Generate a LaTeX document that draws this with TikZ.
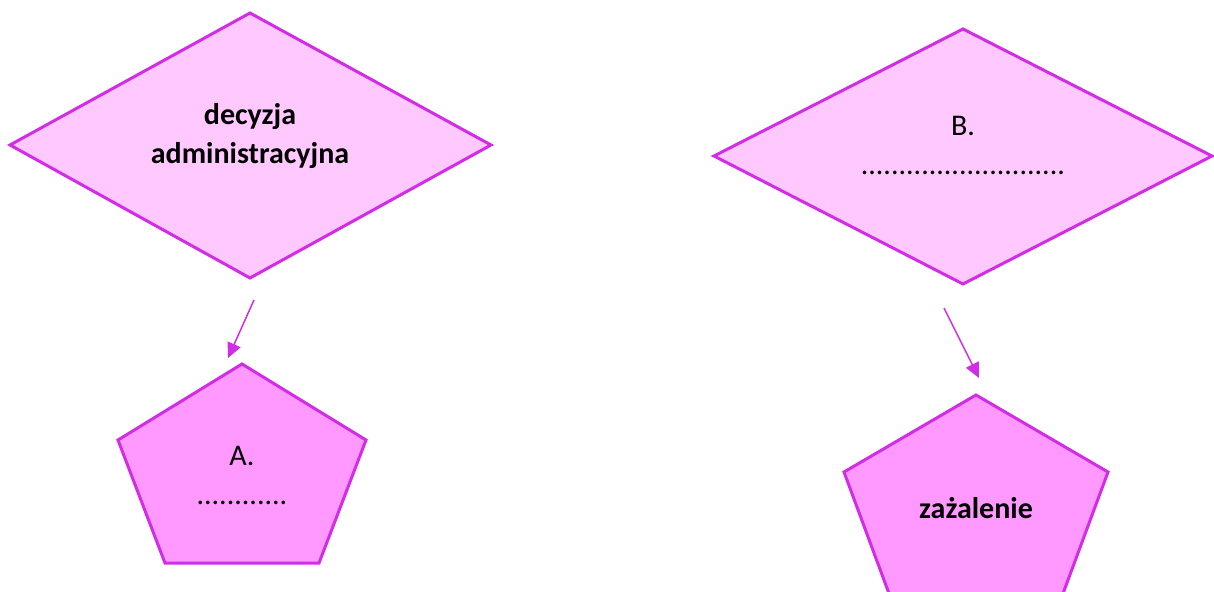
\documentclass[tikz,border=0pt]{standalone}
\usepackage{fontspec}
\setmainfont{Carlito}
\usetikzlibrary{arrows.meta}
\definecolor{edgec}{HTML}{D22CE6}
\definecolor{diafill}{HTML}{FFC8FF}
\definecolor{pentfill}{HTML}{FF99FF}
\tikzset{
  diashape/.style={draw=edgec, fill=diafill, line width=3pt, line join=miter},
  pentshape/.style={draw=edgec, fill=pentfill, line width=3pt, line join=miter},
  label/.style={font=\fontsize{30}{39}\selectfont, align=center, anchor=base, inner sep=0pt},
  conn/.style={draw=edgec, line width=1.5pt, -{Triangle[length=15pt,width=14pt]}},
}
\begin{document}
\begin{tikzpicture}[x=1pt,y=-1pt]
\useasboundingbox (0,0) rectangle (1214,591);
\clip (0,0) rectangle (1214,591);
% left diamond
\coordinate (d1t) at (250,13);
\coordinate (d1r) at (491,145);
\coordinate (d1b) at (250,278);
\coordinate (d1l) at (10,145);
\draw[diashape] (d1t) -- (d1r) -- (d1b) -- (d1l) -- cycle;
\node[label] (t1) at (250,163) {\textbf{decyzja}\\\textbf{administracyjna}};
% right diamond
\coordinate (d2t) at (963,29);
\coordinate (d2r) at (1212,156);
\coordinate (d2b) at (963,284);
\coordinate (d2l) at (714,156);
\draw[diashape] (d2t) -- (d2r) -- (d2b) -- (d2l) -- cycle;
\node[label] (t2) at (963,174) {B.\\...........................};
% left pentagon
\coordinate (p1t) at (242,364);
\coordinate (p1r) at (366,440);
\coordinate (p1br) at (319,563);
\coordinate (p1bl) at (165,563);
\coordinate (p1l) at (118,440);
\draw[pentshape] (p1t) -- (p1r) -- (p1br) -- (p1bl) -- (p1l) -- cycle;
\node[label] (t3) at (242,504) {A.\\............};
% right pentagon
\coordinate (p2t) at (976,395);
\coordinate (p2r) at (1108,472);
\coordinate (p2br) at (1058,607);
\coordinate (p2bl) at (894,607);
\coordinate (p2l) at (844,472);
\draw[pentshape] (p2t) -- (p2r) -- (p2br) -- (p2bl) -- (p2l) -- cycle;
\node[label] (t4) at (976,518) {\textbf{zażalenie}};
% arrows
\coordinate (a1s) at (254,300);
\coordinate (a1e) at (228,358);
\coordinate (a2s) at (944,308);
\coordinate (a2e) at (979,378);
\draw[conn] (a1s) -- (a1e);
\draw[conn] (a2s) -- (a2e);
\end{tikzpicture}
\end{document}
